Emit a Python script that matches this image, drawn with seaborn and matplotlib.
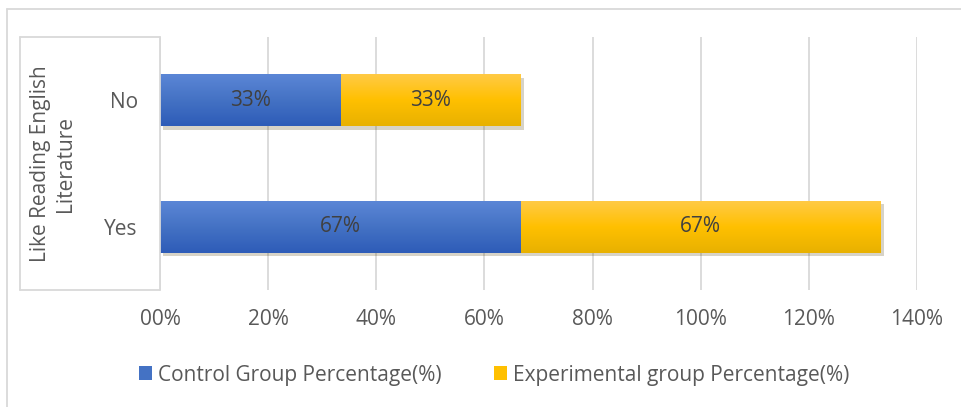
import matplotlib
matplotlib.use("Agg")
import matplotlib.pyplot as plt
import matplotlib.patheffects as pe
from matplotlib.lines import Line2D
from matplotlib.patches import Patch
from matplotlib.colors import LinearSegmentedColormap
import numpy as np
import seaborn as sns
import pandas as pd

categories = ["No", "Yes"]
control = [0.3333, 0.6667]
experimental = [0.3333, 0.6667]
control_labels = ["33%", "67%"]
experimental_labels = ["33%", "67%"]
xticks = [0, 0.2, 0.4, 0.6, 0.8, 1.0, 1.2, 1.4]
xtick_labels = ["00%", "20%", "40%", "60%", "80%", "100%", "120%", "140%"]
series_names = ["Control Group Percentage(%)", "Experimental group Percentage(%)"]
colors = ["#4472C4", "#FFC000"]

sns.set_style("white")
plt.rcParams['font.family'] = ['Open Sans', 'DejaVu Sans']
text_color = "#595959"
grid_color = "#d9d9d9"
FS = 15

W, H = 962, 407
fig = plt.figure(figsize=(W / 100, H / 100), dpi=100)
ax = fig.add_axes([160 / W, 1 - 290 / H, (917 - 160) / W, (290 - 37) / H])

df = pd.DataFrame({"cat": categories,
                   "control": control,
                   "total": [c + e for c, e in zip(control, experimental)]})

shadow = [pe.SimplePatchShadow(offset=(2.5, -2.5), alpha=0.22, rho=0.3), pe.Normal()]
sns.barplot(data=df, y="cat", x="total", order=categories, color=colors[1],
            saturation=1, width=0.41, ax=ax, orient="h")
sns.barplot(data=df, y="cat", x="control", order=categories, color=colors[0],
            saturation=1, width=0.41, ax=ax, orient="h")

ax.set_xlim(0, 1.4)
ax.set_ylim(1.5, -0.5)

grad_maps = {
    0: LinearSegmentedColormap.from_list("b", ["#5b86d6", "#4472C4", "#2e5cb8"]),
    1: LinearSegmentedColormap.from_list("y", ["#ffca45", "#ffc000", "#e8b100"]),
}
grad = np.linspace(0, 1, 64).reshape(-1, 1)
n = len(categories)
for i, p in enumerate(ax.patches):
    p.set_linewidth(0)
    series = 1 if i < n else 0
    if i < n:
        p.set_path_effects(shadow)
    x0, y0 = p.get_x(), p.get_y()
    w, h = p.get_width(), p.get_height()
    im = ax.imshow(grad, cmap=grad_maps[series], aspect="auto",
                   extent=[x0, x0 + w, y0 + h, y0], origin="upper",
                   zorder=p.get_zorder() + 0.01 * (i + 1), interpolation="bilinear")
    im.set_clip_path(p)

ax.set_xlim(0, 1.4)
ax.set_ylim(1.5, -0.5)

for i, (c, e) in enumerate(zip(control, experimental)):
    ax.text(c / 2, i, control_labels[i], ha="center", va="center",
            fontsize=FS, color="#404040", zorder=10)
    ax.text(c + e / 2, i, experimental_labels[i], ha="center", va="center",
            fontsize=FS, color="#404040", zorder=10)

ax.set_xticks(xticks)
ax.set_xticklabels(xtick_labels, fontsize=FS, color=text_color)
ax.tick_params(axis="x", length=0, pad=14)
ax.tick_params(axis="y", length=0, pad=16, labelsize=FS, labelcolor=text_color)
ax.set_xlabel("")
ax.set_ylabel("")
ax.grid(axis="x", color=grid_color, linewidth=1.3)
ax.set_axisbelow(True)
for s in ax.spines.values():
    s.set_visible(False)

def fx(x):
    return x / W

def fy(y):
    return 1 - y / H

lw = 1.3
# inner category-axis box
fig.add_artist(Line2D([fx(20), fx(20)], [fy(37), fy(290)], color=grid_color, lw=lw))
fig.add_artist(Line2D([fx(20), fx(160)], [fy(37), fy(37)], color=grid_color, lw=lw))
fig.add_artist(Line2D([fx(20), fx(160)], [fy(290), fy(290)], color=grid_color, lw=lw))
fig.add_artist(Line2D([fx(160), fx(160)], [fy(37), fy(290)], color=grid_color, lw=lw))
# outer chart border (top & left visible)
fig.add_artist(Line2D([fx(7), fx(7)], [fy(9), fy(407)], color=grid_color, lw=lw))
fig.add_artist(Line2D([fx(7), fx(962)], [fy(9), fy(9)], color=grid_color, lw=lw))

fig.text(fx(53), fy(164), "Like Reading English\nLiterature", rotation=90,
         ha="center", va="center", fontsize=FS, color=text_color,
         linespacing=1.2)

handles = [Patch(facecolor=colors[0], edgecolor="none"),
           Patch(facecolor=colors[1], edgecolor="none")]
fig.legend(handles, series_names, loc="center", bbox_to_anchor=(fx(494), fy(375)),
           ncol=2, frameon=False, fontsize=FS, labelcolor=text_color,
           handlelength=0.62, handleheight=0.62, handletextpad=0.3,
           columnspacing=2.5)

fig.savefig("out.png", dpi=100, facecolor="white")
